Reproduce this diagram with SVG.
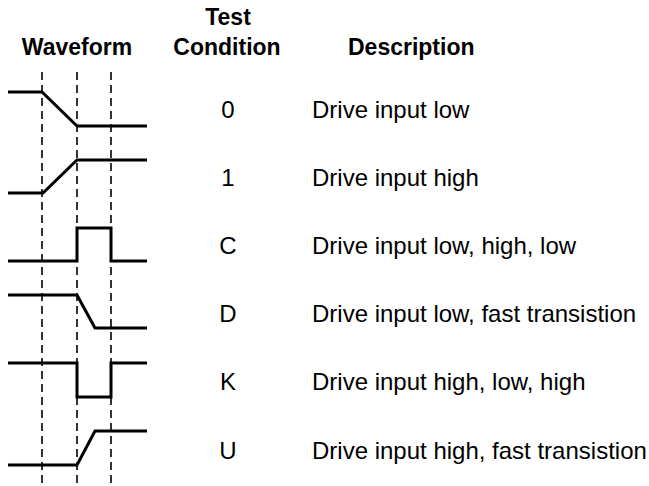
<svg xmlns="http://www.w3.org/2000/svg" width="649" height="486" viewBox="0 0 649 486">
  <style>
    .hdr { font-family: "Liberation Sans", Arial, Helvetica, sans-serif; font-size: 23px; font-weight: bold; fill: #000; }
    .txt { font-family: "Liberation Sans", Arial, Helvetica, sans-serif; font-size: 24px; fill: #000; }
    .mid { text-anchor: middle; }
    .wave { fill: none; stroke: #000; stroke-width: 3; stroke-linejoin: miter; }
    .guide { stroke: #000; stroke-width: 1.6; stroke-dasharray: 8 5; }
  </style>
  <rect width="649" height="486" fill="#fff"/>

  <!-- column headings -->
  <g id="headings">
    <text class="hdr mid" x="77" y="55">Waveform</text>
    <text class="hdr mid" x="228" y="25">Test</text>
    <text class="hdr mid" x="227" y="55">Condition</text>
    <text class="hdr" x="348" y="55">Description</text>
  </g>

  <!-- timing guide lines -->
  <g id="connectors">
    <line class="guide" x1="42" y1="72" x2="42" y2="486"/>
    <line class="guide" x1="77" y1="72" x2="77" y2="486"/>
    <line class="guide" x1="111" y1="72" x2="111" y2="486"/>
  </g>

  <g id="row-0">
    <path class="wave" d="M8,92 H42 L77,126 H147"/>
    <text class="txt mid" x="228" y="118">0</text>
    <text class="txt" x="312" y="118">Drive input low</text>
  </g>

  <g id="row-1">
    <path class="wave" d="M8,193 H43 L77,160 H147"/>
    <text class="txt mid" x="228" y="186">1</text>
    <text class="txt" x="312" y="186">Drive input high</text>
  </g>

  <g id="row-C">
    <path class="wave" d="M8,261 H77 V228 H111 V261 H147"/>
    <text class="txt mid" x="228" y="254">C</text>
    <text class="txt" x="312" y="254">Drive input low, high, low</text>
  </g>

  <g id="row-D">
    <path class="wave" d="M8,295 H77 L95,328 H147"/>
    <text class="txt mid" x="228" y="322">D</text>
    <text class="txt" x="312" y="322">Drive input low, fast transistion</text>
  </g>

  <g id="row-K">
    <path class="wave" d="M8,363 H77 V397 H111 V363 H147"/>
    <text class="txt mid" x="228" y="390">K</text>
    <text class="txt" x="312" y="390">Drive input high, low, high</text>
  </g>

  <g id="row-U">
    <path class="wave" d="M8,465 H77 L95,431 H147"/>
    <text class="txt mid" x="228" y="459">U</text>
    <text class="txt" x="312" y="459">Drive input high, fast transistion</text>
  </g>
</svg>
